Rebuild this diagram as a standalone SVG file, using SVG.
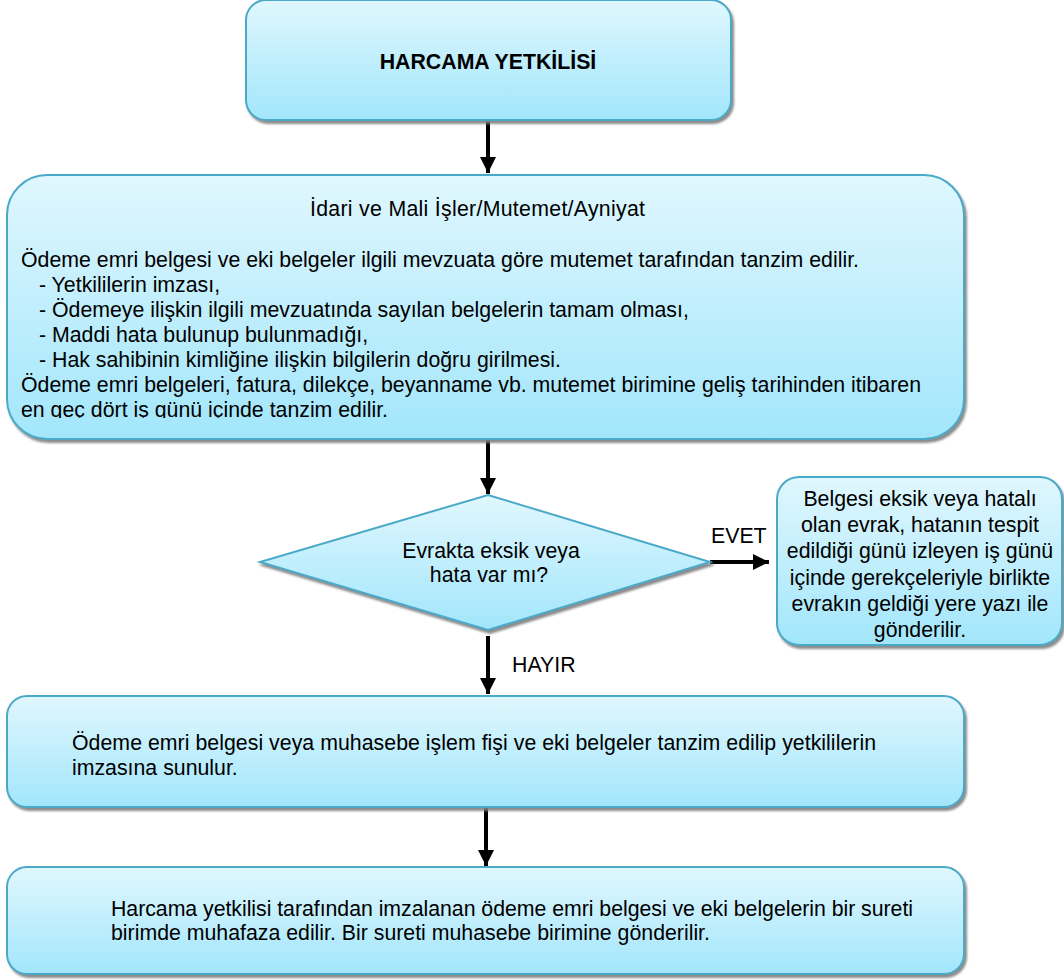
<svg xmlns="http://www.w3.org/2000/svg" width="1064" height="980" viewBox="0 0 1064 980">
<defs>
<linearGradient id="g" x1="0" y1="0" x2="0" y2="1">
<stop offset="0" stop-color="#E0F7FE"/>
<stop offset="1" stop-color="#A2E6FB"/>
</linearGradient>
<filter id="sh" x="-5%" y="-5%" width="110%" height="115%">
<feDropShadow dx="2" dy="3" stdDeviation="1" flood-color="#7f7f7f" flood-opacity="0.9"/>
</filter>
<marker id="ah" viewBox="0 0 10 10" refX="10" refY="5" markerWidth="4" markerHeight="4" markerUnits="strokeWidth" orient="auto">
<path d="M0,0 L10,5 L0,10 Z" fill="#000"/>
</marker>
<clipPath id="c2"><rect x="0" y="170" width="1064" height="248"/></clipPath>
</defs>
<style>
.box{fill:url(#g);stroke:#4BA9C8;stroke-width:2;filter:url(#sh)}
.t{font-family:"Liberation Sans",Arial,sans-serif;font-size:21.3px;fill:#000}
.b{font-weight:bold}
.c{text-anchor:middle}
.con{stroke:#000;stroke-width:4;fill:none;marker-end:url(#ah)}
</style>
<g id="connectors">
<line class="con" x1="488" y1="121" x2="488" y2="173"/>
<line class="con" x1="488" y1="440" x2="488" y2="494"/>
<line class="con" x1="710" y1="562" x2="769" y2="562"/>
<line class="con" x1="488" y1="636" x2="488" y2="694"/>
<line class="con" x1="486" y1="808" x2="486" y2="866"/>
<text class="t" x="711" y="543">EVET</text>
<text class="t" x="512" y="672">HAYIR</text>
</g>
<g id="n1">
<rect class="box" x="246" y="0" width="485" height="120" rx="20"/>
<text class="t b c" x="488" y="69">HARCAMA YETKİLİSİ</text>
</g>
<g id="n2">
<rect class="box" x="7" y="175" width="957" height="264" rx="40"/>
<g clip-path="url(#c2)">
<text class="t" x="310" y="216" textLength="335">İdari ve Mali İşler/Mutemet/Ayniyat</text>
<text class="t" x="21" y="267" textLength="838">Ödeme emri belgesi ve eki belgeler ilgili mevzuata göre mutemet tarafından tanzim edilir.</text>
<text class="t" x="39" y="292">- Yetkililerin imzası,</text>
<text class="t" x="39" y="317">- Ödemeye ilişkin ilgili mevzuatında sayılan belgelerin tamam olması,</text>
<text class="t" x="39" y="342">- Maddi hata bulunup bulunmadığı,</text>
<text class="t" x="39" y="367">- Hak sahibinin kimliğine ilişkin bilgilerin doğru girilmesi.</text>
<text class="t" x="21" y="392" textLength="900">Ödeme emri belgeleri, fatura, dilekçe, beyanname vb. mutemet birimine geliş tarihinden itibaren</text>
<text class="t" x="21" y="417">en geç dört iş günü içinde tanzim edilir.</text>
</g>
</g>
<g id="n3">
<polygon class="box" points="488,495 710,562 488,630 260,562"/>
<text class="t c" x="491" y="558">Evrakta eksik veya</text>
<text class="t c" x="489" y="582">hata var mı?</text>
</g>
<g id="n4">
<rect class="box" x="777" y="477" width="285" height="168" rx="22"/>
<text class="t c" x="920" y="506">Belgesi eksik veya hatalı</text>
<text class="t c" x="920" y="532">olan evrak, hatanın tespit</text>
<text class="t c" x="920" y="558">edildiği günü izleyen iş günü</text>
<text class="t c" x="920" y="585">içinde gerekçeleriyle birlikte</text>
<text class="t c" x="920" y="611">evrakın geldiği yere yazı ile</text>
<text class="t c" x="920" y="637">gönderilir.</text>
</g>
<g id="n5">
<rect class="box" x="7" y="696" width="957" height="111" rx="20"/>
<text class="t" x="72" y="750" textLength="804">Ödeme emri belgesi veya muhasebe işlem fişi ve eki belgeler tanzim edilip yetkililerin</text>
<text class="t" x="72" y="775">imzasına sunulur.</text>
</g>
<g id="n6">
<rect class="box" x="7" y="867" width="957" height="107" rx="20"/>
<text class="t" x="111" y="916" textLength="802">Harcama yetkilisi tarafından imzalanan ödeme emri belgesi ve eki belgelerin bir sureti</text>
<text class="t" x="111" y="940">birimde muhafaza edilir. Bir sureti muhasebe birimine gönderilir.</text>
</g>
</svg>
